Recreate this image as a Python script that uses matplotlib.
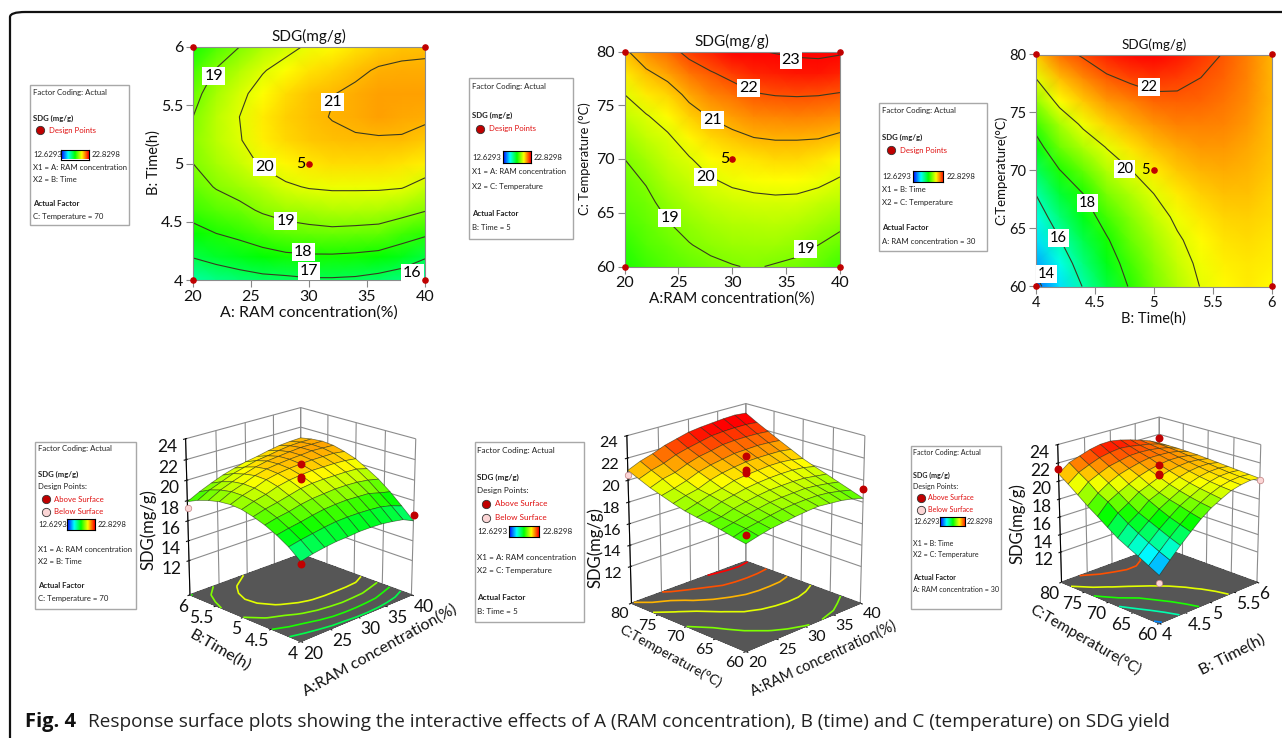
import matplotlib
matplotlib.use('Agg')
import matplotlib.pyplot as plt
from matplotlib.colors import LinearSegmentedColormap, Normalize
from matplotlib.patches import FancyBboxPatch, Rectangle
import numpy as np

plt.rcParams['font.family'] = 'Lato'
plt.rcParams['grid.color'] = '#8c8c8c'
plt.rcParams['grid.linewidth'] = 0.8

W, H = 1282, 738

# factor levels
ram = [20, 22, 24, 26, 28, 30, 32, 34, 36, 38, 40]
time_h = [4.0, 4.2, 4.4, 4.6, 4.8, 5.0, 5.2, 5.4, 5.6, 5.8, 6.0]
temp = [60, 62, 64, 66, 68, 70, 72, 74, 76, 78, 80]

# SDG, one row per value of the first factor
sdg_ram_time = [
    [16.1, 17.05, 17.75, 18.3, 18.7, 19.0, 19.1, 19.0, 18.75, 18.4, 17.9],
    [16.4, 17.3, 18.0, 18.6, 19.05, 19.4, 19.6, 19.6, 19.4, 19.05, 18.5],
    [16.6, 17.5, 18.2, 18.8, 19.3, 19.7, 19.95, 20.0, 19.85, 19.5, 19.0],
    [16.75, 17.7, 18.45, 19.1, 19.6, 20.1, 20.4, 20.45, 20.25, 19.95, 19.45],
    [16.8, 17.85, 18.65, 19.3, 19.9, 20.35, 20.65, 20.75, 20.6, 20.25, 19.8],
    [16.9, 17.9, 18.75, 19.4, 20.05, 20.5, 20.8, 20.9, 20.85, 20.55, 20.1],
    [16.9, 17.9, 18.8, 19.5, 20.1, 20.6, 20.9, 21.02, 20.98, 20.7, 20.3],
    [16.85, 17.85, 18.75, 19.5, 20.1, 20.6, 20.95, 21.1, 21.1, 20.9, 20.55],
    [16.7, 17.75, 18.7, 19.45, 20.1, 20.6, 20.95, 21.2, 21.2, 21.05, 20.75],
    [16.5, 17.5, 18.4, 19.3, 20.05, 20.55, 20.95, 21.15, 21.2, 21.1, 20.85],
    [16.0, 17.1, 18.15, 19.05, 19.75, 20.4, 20.8, 21.1, 21.2, 21.1, 20.9],
]
sdg_ram_temp = [
    [18.0, 18.2, 18.45, 18.65, 18.8, 19.0, 19.3, 19.65, 20.0, 20.45, 20.9],
    [18.3, 18.55, 18.7, 18.85, 19.05, 19.35, 19.65, 19.95, 20.45, 20.9, 21.4],
    [18.55, 18.75, 18.97, 19.2, 19.45, 19.7, 19.9, 20.3, 20.7, 21.2, 21.75],
    [18.7, 18.97, 19.2, 19.45, 19.7, 19.95, 20.35, 20.75, 21.15, 21.65, 22.2],
    [18.85, 19.15, 19.4, 19.65, 19.95, 20.3, 20.65, 21.05, 21.5, 21.95, 22.5],
    [18.97, 19.25, 19.5, 19.8, 20.1, 20.45, 20.85, 21.25, 21.7, 22.2, 22.8],
    [19.05, 19.3, 19.55, 19.85, 20.2, 20.55, 21.0, 21.45, 21.95, 22.45, 22.95],
    [18.95, 19.3, 19.6, 19.88, 20.25, 20.65, 21.05, 21.5, 22.03, 22.55, 23.05],
    [18.85, 19.2, 19.5, 19.85, 20.25, 20.65, 21.05, 21.55, 22.05, 22.6, 23.15],
    [18.65, 19.0, 19.35, 19.7, 20.15, 20.55, 21.03, 21.5, 22.03, 22.6, 23.2],
    [18.35, 18.75, 19.15, 19.55, 19.93, 20.35, 20.88, 21.4, 21.95, 22.5, 23.1],
]
sdg_time_temp = [
    [13.7, 14.3, 14.9, 15.45, 16.03, 16.8, 17.6, 18.35, 19.2, 20.03, 20.8],
    [14.9, 15.4, 15.95, 16.55, 17.2, 17.97, 18.8, 19.4, 20.25, 20.95, 21.7],
    [16.05, 16.5, 17.0, 17.5, 18.0, 18.7, 19.45, 20.15, 20.8, 21.45, 22.1],
    [17.1, 17.5, 17.9, 18.4, 18.95, 19.5, 20.03, 20.7, 21.3, 21.9, 22.5],
    [18.1, 18.4, 18.75, 19.05, 19.45, 19.97, 20.55, 21.05, 21.55, 22.15, 22.75],
    [18.9, 19.1, 19.35, 19.65, 20.0, 20.45, 20.9, 21.35, 21.8, 22.3, 22.8],
    [19.5, 19.7, 19.9, 20.15, 20.45, 20.8, 21.15, 21.55, 21.85, 22.2, 22.6],
    [20.03, 20.15, 20.3, 20.5, 20.75, 21.0, 21.3, 21.55, 21.8, 22.0, 22.3],
    [20.3, 20.4, 20.55, 20.7, 20.9, 21.1, 21.3, 21.5, 21.65, 21.8, 21.95],
    [20.45, 20.5, 20.6, 20.75, 20.9, 21.0, 21.15, 21.3, 21.4, 21.5, 21.55],
    [20.3, 20.4, 20.5, 20.6, 20.7, 20.8, 20.9, 20.95, 21.0, 21.0, 21.0],
]

levels_1 = [16, 17, 18, 19, 20, 21]
levels_2 = [18, 19, 20, 21, 22, 23]
levels_3 = [14, 16, 18, 20, 22]

ram_ticks = [20, 25, 30, 35, 40]
time_ticks = [4, 4.5, 5, 5.5, 6]
temp_ticks = [60, 65, 70, 75, 80]
time_labels = ['4', '4.5', '5', '5.5', '6']
sdg_ticks = [12, 14, 16, 18, 20, 22, 24]

# design points measured above/below the surface (x, y, SDG)
above_1 = ([20, 40, 30, 30, 30], [4, 4, 5, 5, 5], [15.9, 16.6, 20.1, 20.3, 21.6])
below_1 = ([20], [6], [17.3])
above_2 = ([20, 40, 30, 30, 30], [60, 60, 70, 70, 70], [18.8, 19.2, 20.7, 20.9, 22.2])
below_2 = ([20], [80], [20.5])
above_3 = ([4, 6, 5, 5, 5], [80, 80, 70, 70, 70], [21.3, 21.6, 20.7, 20.8, 21.8])
below_3 = ([6, 4], [60, 60], [20.1, 12.9])

SDG_MIN, SDG_MAX = 12.6293, 22.8298
FLOOR = 8.5

cmap = LinearSegmentedColormap.from_list(
    'sdg', ['#0000ff', '#00ffff', '#00ff00', '#ffff00', '#ff0000'])
norm = Normalize(SDG_MIN, SDG_MAX)
DARK_RED = '#c00000'
PINK = '#fbd5d5'

fig = plt.figure(figsize=(W / 100, H / 100), dpi=100)


def rect(x0, y0, x1, y1):
    return [x0 / W, 1 - y1 / H, (x1 - x0) / W, (y1 - y0) / H]


def put(x, y, s, **kw):
    kw.setdefault('fontsize', 5)
    kw.setdefault('va', 'center')
    fig.text(x / W, 1 - y / H, s, **kw)


def legend_box(box, tx, rows, bar, dots, size=5.6):
    x0, y0, x1, y1 = box
    fig.add_artist(Rectangle((x0 / W, 1 - y1 / H), (x1 - x0) / W, (y1 - y0) / H,
                             transform=fig.transFigure, fc='white', ec='#a8a8a8', lw=1,
                             zorder=1))
    for y, s, weight in rows:
        put(tx, y, s, fontweight=weight, fontsize=size, color='#222222')
    dot_x, text_x, dot_rows = dots
    for y, s, col in dot_rows:
        fig.add_artist(plt.Line2D([dot_x / W], [1 - y / H], marker='o', ms=6, mfc=col,
                                  mec='#333333', mew=0.6, transform=fig.transFigure, zorder=2))
        put(text_x, y, s, color='#e01010', fontsize=size)
    bx0, bx1, by0, by1, rx = bar
    cax = fig.add_axes(rect(bx0, by0, bx1, by1), zorder=2)
    cax.imshow(np.linspace(0, 1, 64)[None, :], cmap=cmap, aspect='auto')
    cax.set_xticks([])
    cax.set_yticks([])
    put(tx, (by0 + by1) / 2, '%.4f' % SDG_MIN, fontsize=size, color='#222222')
    put(rx, (by0 + by1) / 2, '%.4f' % SDG_MAX, fontsize=size, color='#222222')


def contour_panel(pos, x, y, z, levels, xticks, xticklabels, yticks, ylabels, xlabel, ylabel,
                  labels, five_x, size, xlabel_size, ylabel_size, title_size, ylabel_at):
    ax = fig.add_axes(rect(*pos))
    z = np.array(z).T
    X, Y = np.meshgrid(x, y)
    ax.pcolormesh(X, Y, z, cmap=cmap, norm=norm, shading='gouraud')
    ax.contour(X, Y, z, levels=levels, colors='#3a3a20', linewidths=0.8)
    for lx, ly, s in labels:
        ax.text(lx, ly, s, ha='center', va='center', fontsize=size, color='black',
                bbox=dict(fc='white', ec='none', pad=1.5))
    xs = [x[0], x[-1], x[0], x[-1]]
    ys = [y[0], y[0], y[-1], y[-1]]
    ax.scatter(xs + [x[5]], ys + [y[5]], s=14, c=DARK_RED, zorder=5, clip_on=False)
    ax.text(five_x, y[5], '5', ha='right', va='center', fontsize=size, color='black')
    ax.set_xlim(x[0], x[-1])
    ax.set_ylim(y[0], y[-1])
    ax.set_xticks(xticks, xticklabels)
    ax.set_yticks(yticks, ylabels)
    ax.tick_params(labelsize=size, length=5, color='#888888', pad=2, labelcolor='#111111')
    ax.set_xlabel(xlabel, fontsize=xlabel_size, labelpad=1, color='#111111')
    ax.set_ylabel(ylabel, fontsize=ylabel_size, color='#111111')
    ax.yaxis.set_label_coords(*ylabel_at)
    ax.set_title('SDG(mg/g)', fontsize=title_size, pad=4, color='#111111')
    for sp in ax.spines.values():
        sp.set_color('#8c8c8c')


def surface_panel(pos, x, y, z, levels, xticks, yticks, xticklabels, yticklabels,
                  above, below, box_z, size=12.5):
    ax = fig.add_axes(rect(*pos), projection='3d')
    ax.patch.set_alpha(0)
    ax.computed_zorder = False
    ax.view_init(elev=20, azim=-135)
    ax.set_box_aspect((1, 1, box_z))
    z = np.array(z).T
    X, Y = np.meshgrid(x, y)
    ax.plot_surface(X, Y, np.full_like(z, FLOOR), color='#565656', shade=False,
                    linewidth=0, antialiased=False, zorder=1)
    ax.contour(X, Y, z, levels=levels, zdir='z', offset=FLOOR, cmap=cmap, norm=norm,
               linewidths=1.2, zorder=2)
    ax.plot_surface(X, Y, z, cmap=cmap, norm=norm, shade=False, rstride=1, cstride=1,
                    edgecolor=(0.1, 0.15, 0.05, 0.6), linewidth=0.5, zorder=3)
    ax.scatter(*above, s=22, c=DARK_RED, depthshade=False, zorder=5)
    ax.scatter(*below, s=22, c=PINK, edgecolors='#c08080', linewidths=0.5,
               depthshade=False, zorder=5)
    ax.set_xlim(x[0], x[-1])
    ax.set_ylim(y[0], y[-1])
    ax.set_zlim(FLOOR, 24)
    ax.set_xticks(xticks, xticklabels, ha='left')
    ax.set_yticks(yticks, yticklabels, ha='right')
    ax.set_zticks(sdg_ticks)
    ax.tick_params(labelsize=size, colors='#111111')
    ax.tick_params(axis='x', pad=-6)
    ax.tick_params(axis='y', pad=-6)
    ax.tick_params(axis='z', pad=0)
    for axis in (ax.xaxis, ax.yaxis):
        axis.set_pane_color((1, 1, 1, 1))
    ax.zaxis.set_pane_color((0.34, 0.34, 0.34, 1))
    return ax


def slanted(x, y, s, angle, size):
    put(x, y, s, rotation=angle, rotation_mode='anchor', ha='center', fontsize=size,
        color='#111111')


# outer frame, runs off the right edge of the page
fig.add_artist(FancyBboxPatch((10 / W, 1 - 748 / H), 1400 / W, 736 / H,
                              boxstyle='round,pad=0,rounding_size=0.012',
                              transform=fig.transFigure, fc='white', ec='#111111', lw=1.6,
                              mutation_aspect=H / W, zorder=-1))

contour_panel((193, 47, 425, 280), ram, time_h, sdg_ram_time, levels_1, ram_ticks, ram_ticks,
              time_ticks, time_labels, 'A: RAM concentration(%)', 'B: Time(h)',
              [(21.8, 5.75, '19'), (32, 5.53, '21'), (26.2, 4.97, '20'), (28, 4.51, '19'),
               (29.5, 4.24, '18'), (30, 4.08, '17'), (38.9, 4.06, '16')], 29.7,
              11.5, 11.5, 10.5, 11, (-0.138, 0.506))
contour_panel((624.5, 51.5, 840, 266.5), ram, temp, sdg_ram_temp, levels_2, ram_ticks, ram_ticks,
              temp_ticks, temp_ticks, 'A:RAM concentration(%)', 'C: Temperature (°C)',
              [(35.45, 79.2, '23'), (31.5, 76.6, '22'), (28.15, 73.6, '21'), (27.5, 68.3, '20'),
               (24.2, 64.5, '19'), (36.8, 61.6, '19')], 29.7,
              11.5, 11, 9.3, 11, (-0.155, 0.5))
contour_panel((1036, 54.5, 1271.5, 286.5), time_h, temp, sdg_time_temp, levels_3, time_ticks,
              time_labels, temp_ticks, temp_ticks, 'B: Time(h)', 'C:Temperature(°C)',
              [(4.96, 77.2, '22'), (4.755, 70.1, '20'), (4.435, 67.2, '18'), (4.19, 64.2, '16'),
               (4.09, 61.1, '14')], 4.97,
              10.5, 10.5, 9.5, 9.6, (-0.123, 0.5))

surface_panel((161, 386, 433, 658), ram, time_h, sdg_ram_time, levels_1[1:-1], ram_ticks, time_ticks,
              ram_ticks, time_labels, above_1, below_1, 1.04)
surface_panel((599.5, 382.5, 884.5, 667.5), ram, temp, sdg_ram_temp, levels_2[1:], ram_ticks,
              temp_ticks, ram_ticks, temp_ticks, above_2, below_2, 1.08, size=11.5)
surface_panel((1036, 398, 1276, 638), time_h, temp, sdg_time_temp, levels_3, time_ticks, temp_ticks,
              time_labels, temp_ticks, above_3, below_3, 1.04)

slanted(148, 530, 'SDG(mg/g)', 90, 12)
slanted(380, 650, 'A:RAM concentration(%)', 29, 11.5)
slanted(220, 650, 'B:Time(h)', -30, 11.7)
slanted(595, 548, 'SDG(mg/g)', 90, 12)
slanted(823, 659, 'A:RAM concentration(%)', 25, 10.5)
slanted(671, 656, 'C:Temperature(°C)', -29, 10)
slanted(1017, 524, 'SDG(mg/g)', 90, 12)
slanted(1232, 655, 'B: Time(h)', 27, 11.7)
slanted(1085, 640, 'C:Temperature(°C)', -30, 11)

legend_box((30, 85, 129, 225), 33,
           [(93, 'Factor Coding: Actual', 'normal'), (118, 'SDG (mg/g)', 'bold'),
            (167, 'X1 = A: RAM concentration', 'normal'), (179, 'X2 = B: Time', 'normal'),
            (203, 'Actual Factor', 'bold'), (216, 'C: Temperature = 70', 'normal')],
           (61, 89, 149.5, 159.5, 92), (40, 49, [(130, 'Design Points', DARK_RED)]))
legend_box((469, 78, 573, 239), 472,
           [(86, 'Factor Coding: Actual', 'normal'), (115, 'SDG (mg/g)', 'bold'),
            (171, 'X1 = A: RAM concentration', 'normal'), (186, 'X2 = C: Temperature', 'normal'),
            (213, 'Actual Factor', 'bold'), (228, 'B: Time = 5', 'normal')],
           (503, 531, 151, 163, 534), (480, 489, [(129, 'Design Points', DARK_RED)]))
legend_box((879, 103, 987, 251), 882,
           [(111, 'Factor Coding: Actual', 'normal'), (137, 'SDG (mg/g)', 'bold'),
            (189, 'X1 = B: Time', 'normal'), (202, 'X2 = C: Temperature', 'normal'),
            (228, 'Actual Factor', 'bold'), (242, 'A: RAM concentration = 30', 'normal')],
           (913, 943, 171, 182, 947), (891, 900, [(150, 'Design Points', DARK_RED)]))

legend_box((35, 442, 136, 609), 38,
           [(449, 'Factor Coding: Actual', 'normal'), (474, 'SDG (mg/g)', 'bold'),
            (487, 'Design Points:', 'normal'), (549, 'X1 = A: RAM concentration', 'normal'),
            (561, 'X2 = B: Time', 'normal'), (586, 'Actual Factor', 'bold'),
            (599, 'C: Temperature = 70', 'normal')],
           (67, 95, 519, 530, 98),
           (46, 54, [(499, 'Above Surface', DARK_RED), (512, 'Below Surface', PINK)]))
legend_box((475, 442, 584, 622), 477,
           [(450, 'Factor Coding: Actual', 'normal'), (477, 'SDG (mg/g)', 'bold'),
            (490, 'Design Points:', 'normal'), (558, 'X1 = A: RAM concentration', 'normal'),
            (571, 'X2 = C: Temperature', 'normal'), (598, 'Actual Factor', 'bold'),
            (612, 'B: Time = 5', 'normal')],
           (509, 539, 526, 537, 543),
           (486, 495, [(504, 'Above Surface', DARK_RED), (518, 'Below Surface', PINK)]), size=5.9)
legend_box((911, 446, 1001, 609), 913,
           [(452, 'Factor Coding: Actual', 'normal'), (475, 'SDG (mg/g)', 'bold'),
            (486, 'Design Points:', 'normal'), (544, 'X1 = B: Time', 'normal'),
            (555, 'X2 = C: Temperature', 'normal'), (578, 'Actual Factor', 'bold'),
            (589, 'A: RAM concentration = 30', 'normal')],
           (940, 965, 517, 526, 967),
           (921, 928, [(498, 'Above Surface', DARK_RED), (510, 'Below Surface', PINK)]), size=5.1)

put(25, 722, 'Fig. 4', fontsize=14.5, fontweight='bold', color='#111111', family='Open Sans')
put(88, 722, 'Response surface plots showing the interactive effects of A (RAM concentration), '
    'B (time) and C (temperature) on SDG yield', fontsize=13.7, color='#222222',
    family='Open Sans')

fig.savefig('out.png', dpi=100)
